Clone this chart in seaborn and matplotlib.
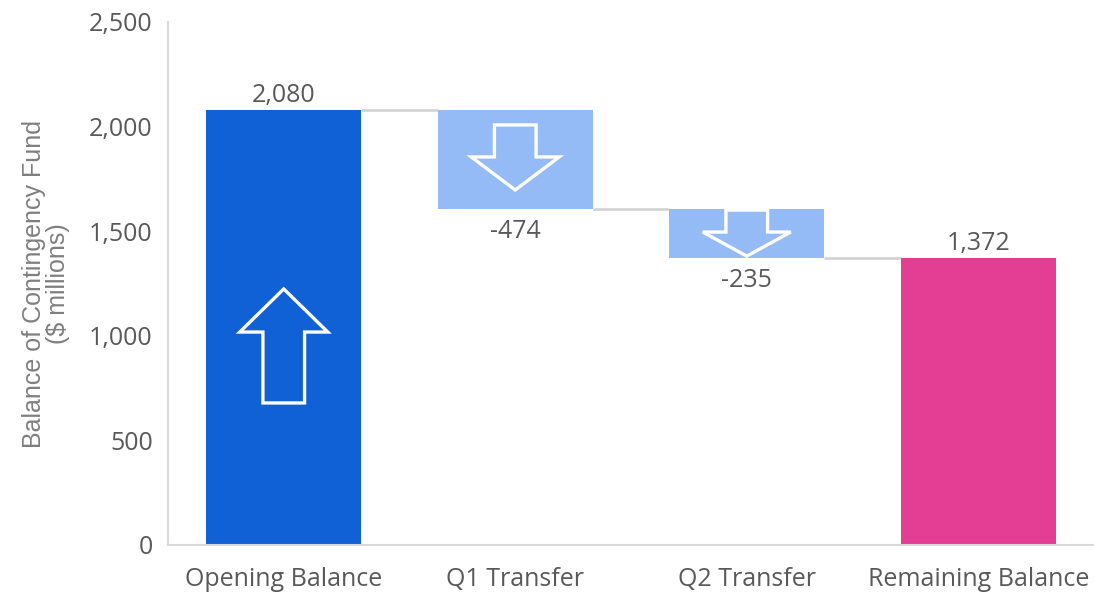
import matplotlib
matplotlib.use("Agg")
import matplotlib.pyplot as plt
from matplotlib.patches import Polygon
from matplotlib.ticker import FuncFormatter
import pandas as pd
import seaborn as sns

# datos del grafico
categories = ["Opening Balance", "Q1 Transfer", "Q2 Transfer", "Remaining Balance"]
values = [2080, -474, -235, 1372]
is_total = [True, False, False, True]
value_labels = ["2,080", "-474", "-235", "1,372"]
bar_colors = ["#1060D6", "#94BBF6", "#94BBF6", "#E43D94"]

# flechas decorativas: (barra, cola, punta, largo de la cabeza)
arrows = [(0, 679, 1224, 206), (1, 2008, 1697, 158), (2, 1601, 1381, 115)]

# calcular base y alto de cada barra (cascada)
bottoms, heights, levels = [], [], []
running = 0
for v, total in zip(values, is_total):
    if total:
        bottoms.append(0)
        heights.append(v)
        running = v
    else:
        bottoms.append(running)
        heights.append(v)
        running += v
    levels.append(running)

df = pd.DataFrame({"category": categories, "height": heights})

sns.set_style("white")
plt.rcParams["font.family"] = ["Open Sans", "DejaVu Sans"]

TICK_COLOR = "#595959"
LINE_COLOR = "#D9D9D9"
BAR_W = 0.67

fig = plt.figure(figsize=(10.94, 5.97), dpi=100)
ax = fig.add_axes([168 / 1094, 52 / 597, 926 / 1094, 523 / 597])

sns.barplot(data=df, x="category", y="height", order=categories,
            errorbar=None, width=BAR_W, bottom=bottoms, ax=ax,
            color=bar_colors[0], saturation=1, linewidth=0, zorder=2)
for bar, c in zip(ax.patches, bar_colors):
    bar.set_facecolor(c)

# conectores entre barras
for i in range(len(categories) - 1):
    ax.plot([i + BAR_W / 2, i + 1 - BAR_W / 2], [levels[i], levels[i]],
            color="#D0D0D0", lw=1.8, zorder=1, solid_capstyle="butt")

# etiquetas de valores
for i, (b, h, lab) in enumerate(zip(bottoms, heights, value_labels)):
    if h >= 0:
        ax.annotate(lab, (i, b + h), xytext=(0, 5.8), textcoords="offset points",
                    ha="center", va="baseline", fontsize=18, color=TICK_COLOR)
    else:
        ax.annotate(lab, (i, b + h), xytext=(0, -7), textcoords="offset points",
                    ha="center", va="top", fontsize=18, color=TICK_COLOR)

# flechas blancas
HEAD_HW = 0.19
SHAFT_HW = 0.09
for i, tail, tip, head in arrows:
    sign = 1 if tip > tail else -1
    base = tip - sign * head
    pts = [(i - SHAFT_HW, tail), (i - SHAFT_HW, base), (i - HEAD_HW, base),
           (i, tip), (i + HEAD_HW, base), (i + SHAFT_HW, base), (i + SHAFT_HW, tail)]
    ax.add_patch(Polygon(pts, closed=True, facecolor="none", edgecolor="white",
                         lw=2.4, joinstyle="miter", zorder=3))

ax.set_xlim(-0.5, 3.5)
ax.set_ylim(0, 2500)
ax.set_yticks([0, 500, 1000, 1500, 2000, 2500])
ax.yaxis.set_major_formatter(FuncFormatter(lambda v, p: f"{v:,.0f}"))

for s in ["top", "right"]:
    ax.spines[s].set_visible(False)
for s in ["left", "bottom"]:
    ax.spines[s].set_color(LINE_COLOR)
    ax.spines[s].set_linewidth(1.5)

ax.tick_params(axis="y", length=0, labelsize=18, colors=TICK_COLOR, pad=11)
ax.tick_params(axis="x", length=0, labelsize=18, colors=TICK_COLOR, pad=16)
ax.set_xlabel("")
ax.set_ylabel("Balance of Contingency Fund\n($ millions)", fontsize=18,
              color="#7F7F7F", family=["Liberation Sans", "DejaVu Sans"],
              labelpad=14, linespacing=1.0)

plt.savefig("out.png", dpi=100)
plt.close()
